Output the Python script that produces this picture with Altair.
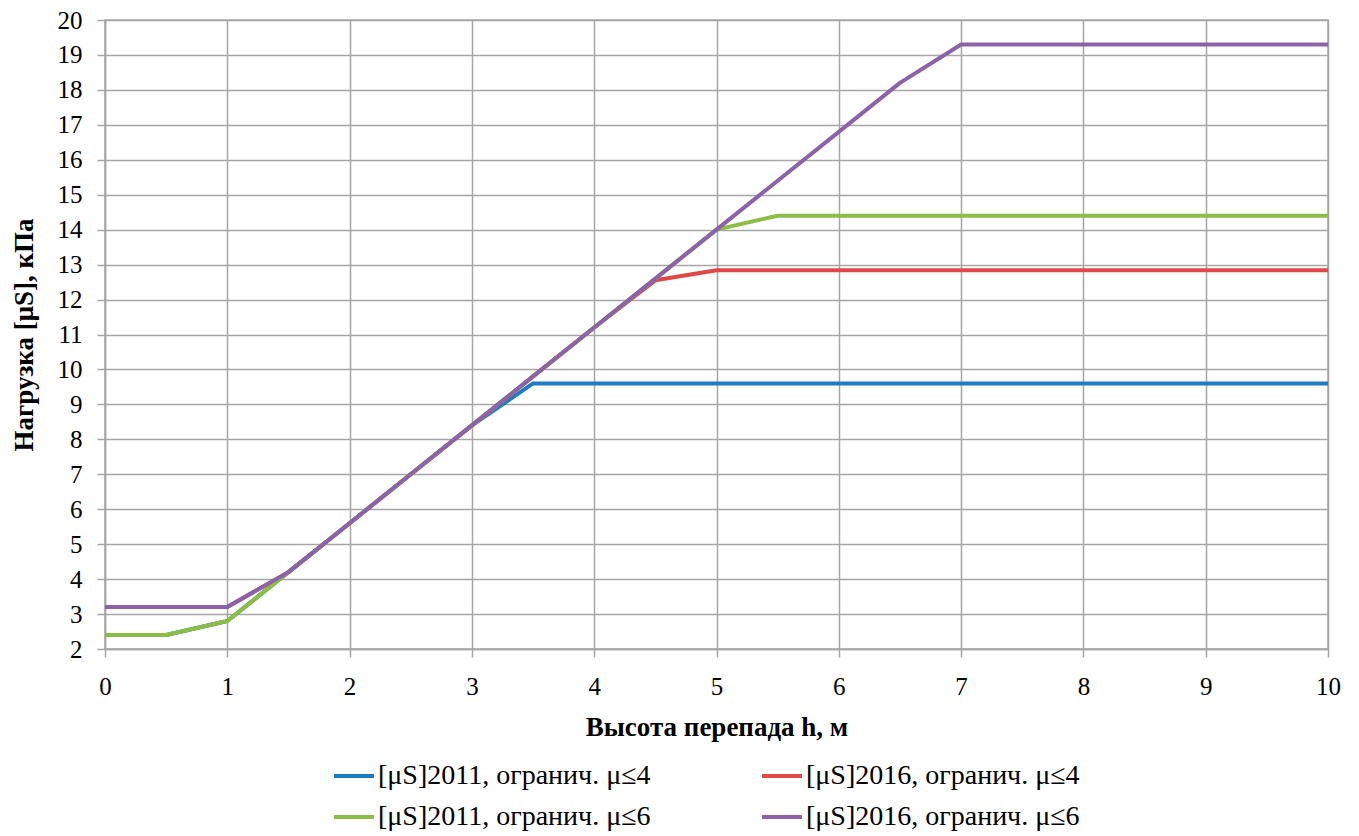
import altair as alt
import pandas as pd

h = [0, 0.5, 1, 1.5, 2, 2.5, 3, 3.5, 4, 4.5, 5, 5.5, 6, 6.5, 7, 7.5, 8, 8.5, 9, 9.5, 10]

s2011_mu4 = [2.4, 2.4, 2.8, 4.2, 5.6, 7.0, 8.4, 9.6, 9.6, 9.6, 9.6, 9.6, 9.6, 9.6, 9.6, 9.6, 9.6, 9.6, 9.6, 9.6, 9.6]
s2016_mu4 = [3.2, 3.2, 3.2, 4.2, 5.6, 7.0, 8.4, 9.8, 11.2, 12.55, 12.84, 12.84, 12.84, 12.84, 12.84, 12.84, 12.84, 12.84, 12.84, 12.84, 12.84]
s2011_mu6 = [2.4, 2.4, 2.8, 4.2, 5.6, 7.0, 8.4, 9.8, 11.2, 12.6, 14.0, 14.4, 14.4, 14.4, 14.4, 14.4, 14.4, 14.4, 14.4, 14.4, 14.4]
s2016_mu6 = [3.2, 3.2, 3.2, 4.2, 5.6, 7.0, 8.4, 9.8, 11.2, 12.6, 14.0, 15.4, 16.8, 18.2, 19.3, 19.3, 19.3, 19.3, 19.3, 19.3, 19.3]

series_names = [
    "[μS]2011, огранич. μ≤4",
    "[μS]2016, огранич. μ≤4",
    "[μS]2011, огранич. μ≤6",
    "[μS]2016, огранич. μ≤6",
]
series_values = [s2011_mu4, s2016_mu4, s2011_mu6, s2016_mu6]
colors = ["#1f7cc2", "#e04848", "#8cbd45", "#8c62a8"]
# legend is filled column by column: first column blue/green, second red/purple
legend_order = [series_names[0], series_names[2], series_names[1], series_names[3]]

rows = []
for k, (name, vals) in enumerate(zip(series_names, series_values)):
    for x, y in zip(h, vals):
        rows.append({"h": x, "v": y, "series": name, "ord": k})
df = pd.DataFrame(rows)

FONT = "Liberation Serif"

chart = alt.Chart(df).mark_line(strokeWidth=4, strokeJoin="round").encode(
    x=alt.X("h:Q", scale=alt.Scale(domain=[0, 10], nice=False),
            axis=alt.Axis(values=list(range(0, 11)), title="Высота перепада h, м",
                          labelFlush=False, labelPadding=17, titlePadding=15)),
    y=alt.Y("v:Q", scale=alt.Scale(domain=[2, 20], nice=False, zero=False),
            axis=alt.Axis(values=list(range(2, 21)), title="Нагрузка [μS], кПа",
                          labelFlush=False, labelPadding=15, titlePadding=19)),
    color=alt.Color("series:N", sort=series_names,
                    scale=alt.Scale(domain=series_names, range=colors),
                    legend=alt.Legend(title=None, orient="none", legendX=227, legendY=734,
                                      values=legend_order,
                                      columns=2, columnPadding=103, rowPadding=5,
                                      symbolType="stroke", symbolSize=1600, symbolStrokeWidth=4,
                                      labelFontSize=28, labelFont=FONT, labelLimit=500,
                                      labelColor="#000000", labelOffset=2)),
    order=alt.Order("ord:Q"),
    detail="series:N",
).properties(
    width=1223,
    height=629,
    autosize=alt.AutoSizeParams(type="none"),
    padding={"left": 97, "top": 12, "right": 20, "bottom": 185},
).configure_view(
    stroke="#a6a6a6", strokeWidth=1.5
).configure_axis(
    grid=True, gridColor="#a6a6a6", gridWidth=1.5,
    domainColor="#a6a6a6", domainWidth=1.5,
    tickColor="#a6a6a6", tickSize=8, tickWidth=1.5,
    labelFont=FONT, labelFontSize=25, labelColor="#000000",
    titleFont=FONT, titleFontSize=27, titleFontWeight="bold", titleColor="#000000",
).configure_legend(
    symbolType="stroke"
)

chart.save("out.html", embed_options={"renderer": "svg", "actions": False})
